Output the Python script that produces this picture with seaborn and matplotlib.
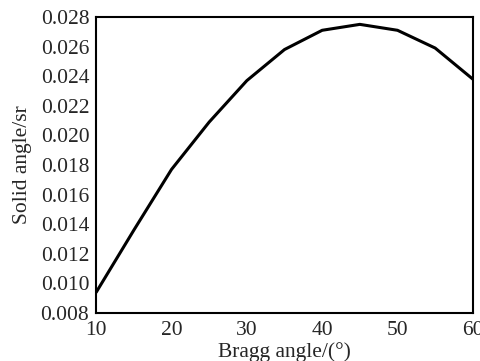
import pandas as pd
import matplotlib.pyplot as plt
import seaborn as sns
from matplotlib.ticker import MultipleLocator

# Bragg angle (deg) vs solid angle (sr)
bragg_angle = [10, 15, 20, 25, 30, 35, 40, 45, 50, 55, 60]
solid_angle = [0.0094, 0.0136, 0.0177, 0.0209, 0.0237, 0.0258, 0.0271, 0.0275, 0.0271, 0.0259, 0.0238]

x_ticks = [10, 20, 30, 40, 50, 60]
y_ticks = [0.008, 0.010, 0.012, 0.014, 0.016, 0.018, 0.020, 0.022, 0.024, 0.026, 0.028]

sns.set_style("white")
plt.rcParams['font.family'] = ['Liberation Serif', 'DejaVu Serif']
plt.rcParams['font.size'] = 15.5

df = pd.DataFrame({"angle": bragg_angle, "solid": solid_angle})

fig, ax = plt.subplots(figsize=(4.81, 3.61), dpi=100)
sns.lineplot(data=df, x="angle", y="solid", color="black", linewidth=2.2, ax=ax)

ax.set_xlim(10, 60)
ax.set_ylim(0.008, 0.028)
ax.set_xticks(x_ticks)
ax.set_yticks(y_ticks)
ax.set_yticklabels([f"{v:.3f}" for v in y_ticks])
ax.xaxis.set_minor_locator(MultipleLocator(5))
ax.tick_params(axis="x", which="both", direction="in", length=3, width=1, pad=6)
ax.tick_params(axis="y", direction="in", length=0, pad=5)

for sp in ax.spines.values():
    sp.set_linewidth(1.5)
    sp.set_color("black")

ax.set_xlabel("Bragg angle/(°)", labelpad=1)
ax.set_ylabel("Solid angle/sr", labelpad=6)

fig.subplots_adjust(left=0.2, right=0.983, top=0.953, bottom=0.133)
fig.savefig("out.png", dpi=100)
